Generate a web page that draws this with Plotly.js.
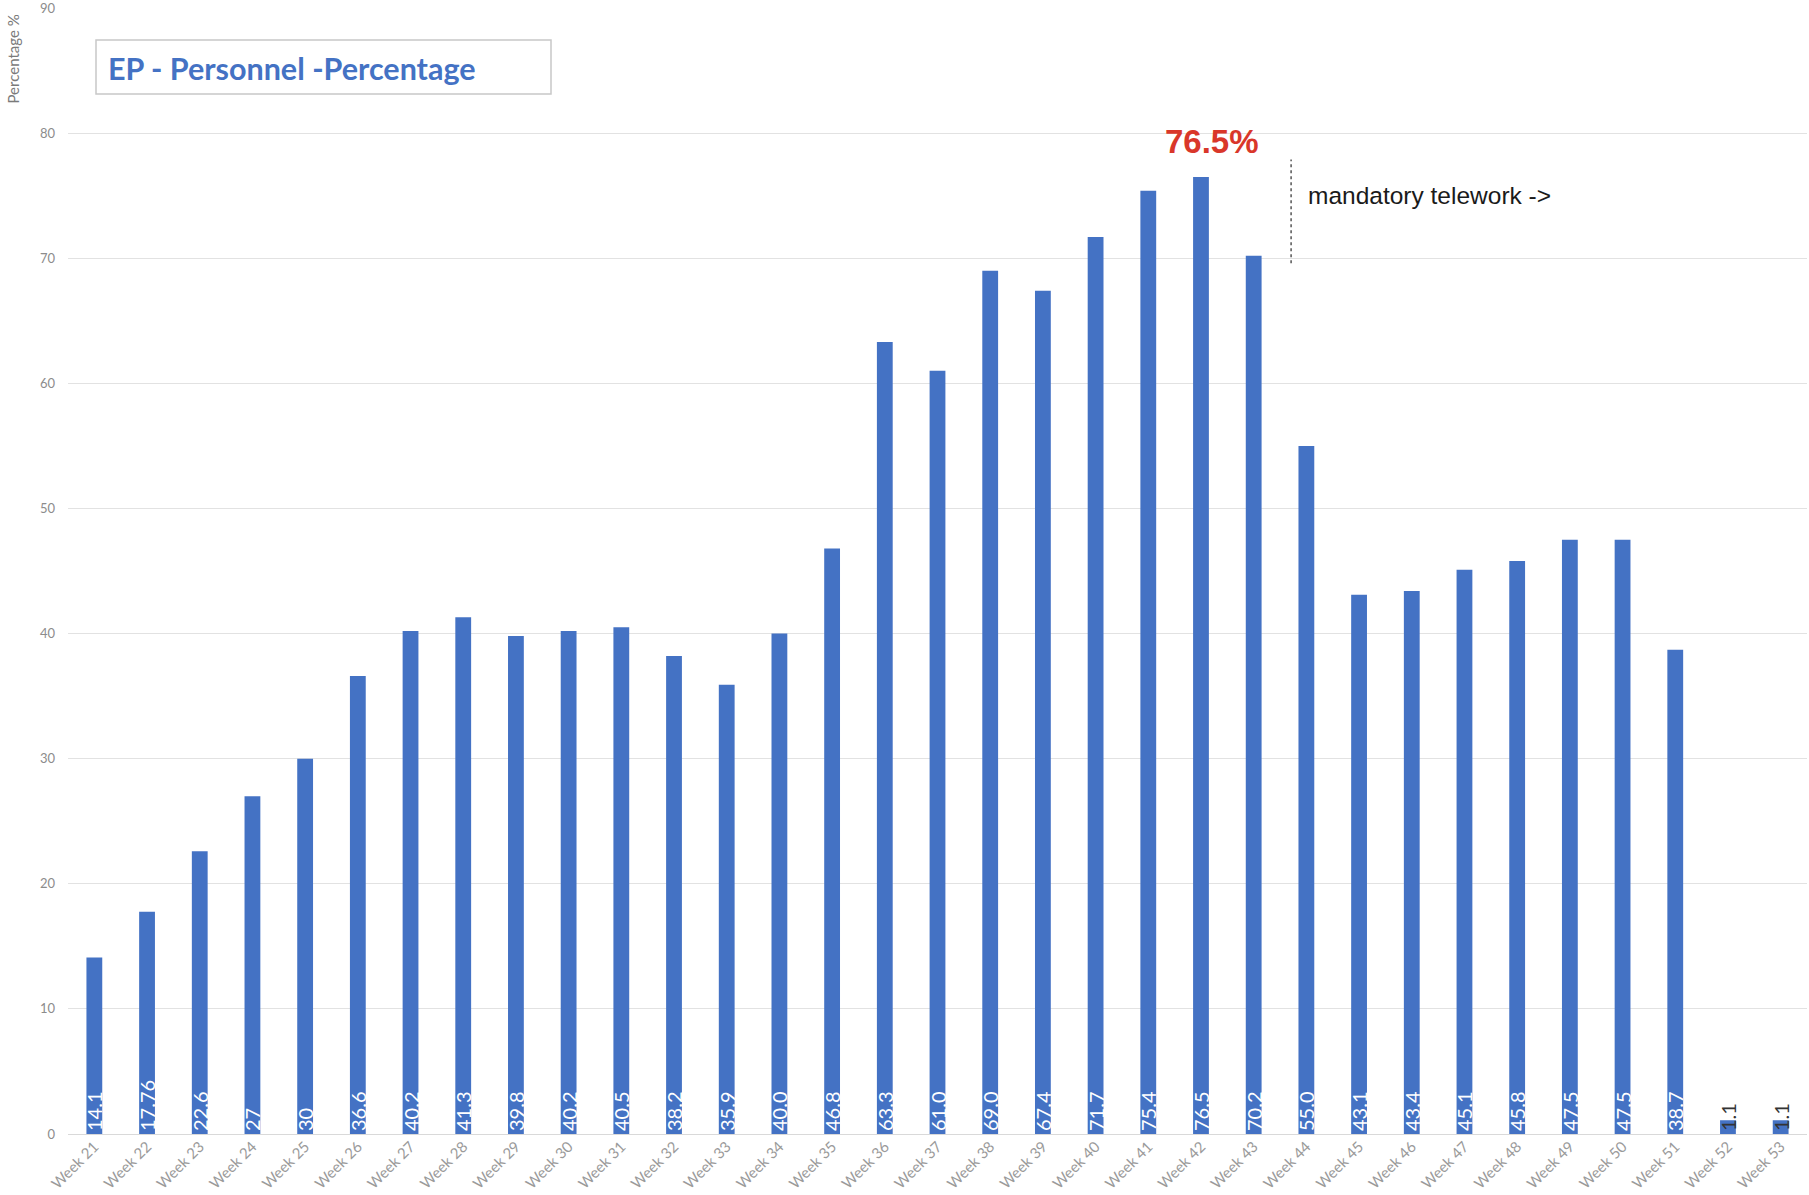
<!DOCTYPE html>
<html>
<head>
<meta charset="utf-8">
<script src="https://cdn.plot.ly/plotly-3.0.1.min.js"></script>
<style>html,body{margin:0;padding:0;background:#fff;}#chart{width:1809px;height:1195px;}</style>
</head>
<body>
<div id="chart"></div>
<script>
// ---- Data ----
const weeks = ["Week 21","Week 22","Week 23","Week 24","Week 25","Week 26","Week 27","Week 28","Week 29","Week 30",
  "Week 31","Week 32","Week 33","Week 34","Week 35","Week 36","Week 37","Week 38","Week 39","Week 40",
  "Week 41","Week 42","Week 43","Week 44","Week 45","Week 46","Week 47","Week 48","Week 49","Week 50",
  "Week 51","Week 52","Week 53"];
const values = [14.1,17.76,22.6,27,30,36.6,40.2,41.3,39.8,40.2,
  40.5,38.2,35.9,40.0,46.8,63.3,61.0,69.0,67.4,71.7,
  75.4,76.5,70.2,55.0,43.1,43.4,45.1,45.8,47.5,47.5,
  38.7,1.1,1.1];
const valueLabels = ["14.1","17.76","22.6","27","30","36.6","40.2","41.3","39.8","40.2",
  "40.5","38.2","35.9","40.0","46.8","63.3","61.0","69.0","67.4","71.7",
  "75.4","76.5","70.2","55.0","43.1","43.4","45.1","45.8","47.5","47.5",
  "38.7","1.1","1.1"];
const chartTitle = "EP - Personnel -Percentage";
const yAxisTitle = "Percentage %";
const peakLabel = "76.5%";
const noteLabel = "mandatory telework ->";

// ---- Layout helpers (pixel -> paper) ----
const W = 1809, H = 1195;
const M = {l: 68, r: 2, t: 8, b: 61};
const pw = W - M.l - M.r, ph = H - M.t - M.b;
const px = x => (x - M.l) / pw;
const py = y => (H - M.b - y) / ph;

const labelColors = values.map(v => v < 5 ? "#333333" : "#ffffff");

const trace = {
  type: "bar",
  x: weeks,
  y: values,
  text: valueLabels,
  textposition: "inside",
  insidetextanchor: "start",
  textangle: -90,
  constraintext: "none",
  cliponaxis: false,
  textfont: {family: "Lato, 'Open Sans', sans-serif", size: 20, color: labelColors},
  marker: {color: "#4472C4"},
  width: 0.3,
  hoverinfo: "x+y"
};

const layout = {
  width: W, height: H, autosize: false,
  margin: M,
  paper_bgcolor: "#ffffff",
  plot_bgcolor: "#ffffff",
  showlegend: false,
  font: {family: "Lato, 'Liberation Sans', sans-serif"},
  xaxis: {
    type: "category",
    range: [-0.5, 32.5],
    tickangle: -45,
    tickfont: {family: "Lato, sans-serif", size: 15, color: "#9a9a9a"},
    showgrid: false,
    showline: false,
    ticks: "",
    zeroline: false
  },
  yaxis: {
    range: [0, 90],
    dtick: 10,
    tick0: 0,
    gridcolor: "#e2e2e2",
    gridwidth: 1,
    zeroline: true,
    zerolinecolor: "#d9d9d9",
    zerolinewidth: 1,
    showline: false,
    ticks: "",
    ticklabelstandoff: 12,
    ticklabeloverflow: "allow",
    tickfont: {family: "Lato, sans-serif", size: 13, color: "#8c8c8c"}
  },
  shapes: [
    {type: "line", xref: "x", yref: "y", x0: 22.71, x1: 22.71, y0: 69.6, y1: 77.9,
     line: {color: "#555555", width: 1.5, dash: "dot"}},
    {type: "rect", xref: "paper", yref: "paper",
     x0: px(96), x1: px(551), y0: py(94), y1: py(40),
     fillcolor: "#ffffff", line: {color: "#c8c8c8", width: 1.5}, layer: "above"}
  ],
  annotations: [
    {text: "<b>" + chartTitle + "</b>", xref: "paper", yref: "paper",
     x: px(106), y: py(68), xanchor: "left", yanchor: "middle",
     showarrow: false,
     font: {family: "Lato, 'Open Sans', sans-serif", size: 30.5, color: "#4472C4"}},
    {text: yAxisTitle, xref: "paper", yref: "paper",
     x: px(12), y: py(12), xanchor: "center", yanchor: "top", textangle: -90,
     showarrow: false, font: {family: "Lato, sans-serif", size: 15, color: "#7a7a7a"}},
    {text: "<b>" + peakLabel + "</b>", xref: "x", yref: "y",
     x: 21.21, y: 79.3, xanchor: "center", yanchor: "middle",
     showarrow: false, font: {family: "'Liberation Sans', Arial, sans-serif", size: 33, color: "#D9372A"}},
    {text: noteLabel, xref: "x", yref: "y",
     x: 22.99, y: 75.0, xanchor: "left", yanchor: "middle",
     showarrow: false, font: {family: "'Liberation Sans', Arial, sans-serif", size: 24.5, color: "#1a1a1a"}}
  ]
};

Plotly.newPlot("chart", [trace], layout, {displayModeBar: false, staticPlot: true});
</script>
</body>
</html>
